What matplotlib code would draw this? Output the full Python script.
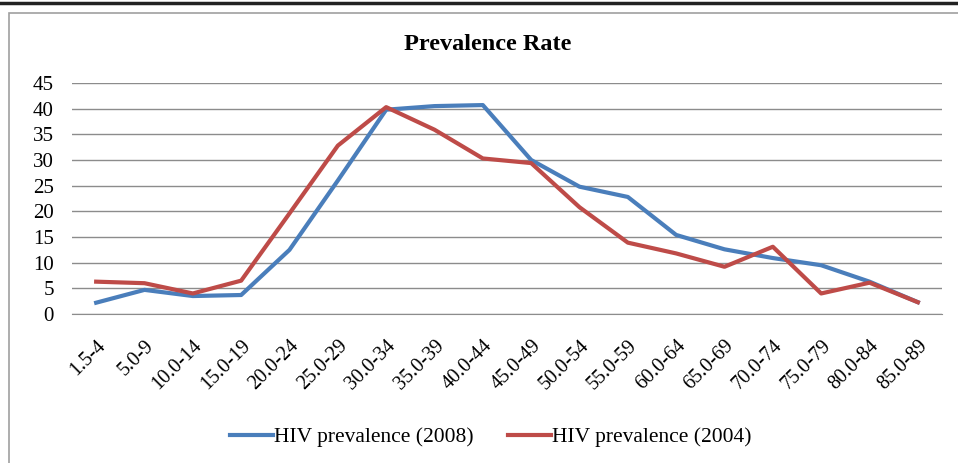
import matplotlib
matplotlib.use("Agg")
import matplotlib.pyplot as plt
from matplotlib.lines import Line2D
from matplotlib.patches import Rectangle

# age groups and prevalence values
age_groups = ["1.5-4", "5.0-9", "10.0-14", "15.0-19", "20.0-24", "25.0-29",
              "30.0-34", "35.0-39", "40.0-44", "45.0-49", "50.0-54", "55.0-59",
              "60.0-64", "65.0-69", "70.0-74", "75.0-79", "80.0-84", "85.0-89"]
hiv_2008 = [2.2, 4.7, 3.5, 3.7, 12.5, 26.0, 39.8, 40.5, 40.7, 30.0, 24.8, 22.8,
            15.4, 12.6, 10.9, 9.5, 6.3, 2.3]
hiv_2004 = [6.3, 6.0, 4.0, 6.5, 19.6, 32.8, 40.3, 35.9, 30.3, 29.4, 20.8, 13.9,
            11.8, 9.2, 13.1, 4.0, 6.1, 2.3]
y_ticks = [0, 5, 10, 15, 20, 25, 30, 35, 40, 45]

W, H = 958, 463
plt.rcParams['font.family'] = ['Liberation Serif', 'DejaVu Serif']

fig = plt.figure(figsize=(W / 100, H / 100), dpi=100)

# page frame: dark rule on top, light chart border
fig.add_artist(Line2D([0, 1], [1 - 3 / H, 1 - 3 / H], color="#222222", lw=2.5,
                      transform=fig.transFigure))
fig.add_artist(Rectangle((9 / W, -0.05), 1.2, 1 - 13 / H + 0.05, transform=fig.transFigure,
                         fill=False, edgecolor="#a0a0a0", lw=1.2))

ax = fig.add_axes([72 / W, 1 - 314 / H, (942 - 72) / W, (314 - 83) / H])
x = list(range(len(age_groups)))
ax.plot(x, hiv_2008, color="#4a7ebb", lw=3, label="HIV prevalence (2008)", solid_joinstyle="round")
ax.plot(x, hiv_2004, color="#be4b48", lw=3, label="HIV prevalence (2004)", solid_joinstyle="round")

ax.set_xlim(-0.5, len(age_groups) - 0.5)
ax.set_ylim(0, 45)
ax.set_yticks(y_ticks)
ax.set_yticklabels([str(v) for v in y_ticks], fontsize=15)
ax.set_xticks(x)
ax.set_xticklabels(age_groups, rotation=45, ha="right", rotation_mode="anchor", fontsize=14.5)
ax.tick_params(axis="y", length=0, pad=13)
ax.tick_params(axis="x", length=0, pad=16)
ax.yaxis.grid(True, color="#8c8c8c", lw=1)
ax.set_axisbelow(True)
for s in ["top", "right", "left"]:
    ax.spines[s].set_visible(False)
ax.spines["bottom"].set_color("#8c8c8c")

fig.text(488 / W, 1 - 44 / H, "Prevalence Rate", ha="center", va="center",
         fontsize=17.5, fontweight="bold")

fig.legend(loc="center", bbox_to_anchor=(491 / W, 1 - 437 / H), ncol=2, frameon=False,
           fontsize=15.5, handlelength=2.0, handletextpad=0.05, columnspacing=1.6)

fig.savefig("out.png", dpi=100)
